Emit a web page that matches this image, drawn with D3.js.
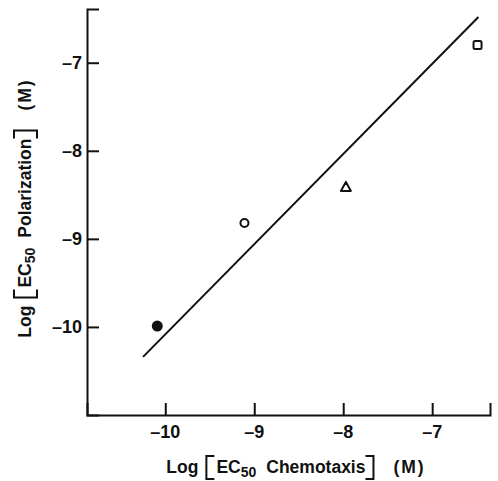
<!DOCTYPE html>
<html>
<head>
<meta charset="utf-8">
<script src="https://cdn.jsdelivr.net/npm/d3@7"></script>
<style>
  body { margin: 0; background: #fff; }
  text { font-family: "Liberation Sans", sans-serif; font-weight: bold; fill: #111; }
</style>
</head>
<body>
<script>
// data (log molar EC50 values)
var chemotaxis   = [-10.09, -9.11, -7.97, -6.49];
var polarization = [-9.99, -8.82, -8.41, -6.80];
var symbols      = ["filledCircle", "openCircle", "triangle", "square"];
var fitX = [-10.25, -6.48];
var fitY = [-10.34, -6.48];
var xTicks = [-10, -9, -8, -7];
var yTicks = [-10, -9, -8, -7];

var W = 498, H = 481;
var margin = {left: 87, right: 8, top: 9, bottom: 66};

var svg = d3.select("body").append("svg")
    .attr("width", W)
    .attr("height", H);

var x = d3.scaleLinear()
    .domain([-10.88, -6.35])
    .range([margin.left, W - margin.right]);

var y = d3.scaleLinear()
    .domain([-11.0, -6.39])
    .range([H - margin.bottom, margin.top]);

//axes, ticks pointing inward
var xAxis = d3.axisTop(x).tickValues(xTicks).tickSize(12).tickFormat("");
var yAxis = d3.axisRight(y).tickValues(yTicks).tickSize(12).tickFormat("");

var gx = svg.append("g")
    .attr("transform", "translate(0," + y.range()[0] + ")")
    .call(xAxis);
var gy = svg.append("g")
    .attr("transform", "translate(" + x.range()[0] + ",0)")
    .call(yAxis);

[gx, gy].forEach(function(g) {
  g.select(".domain").attr("stroke", "#111").attr("stroke-width", 2);
  g.selectAll(".tick line").attr("stroke", "#111").attr("stroke-width", 2);
});

//tick labels (en dash as the minus, like the original)
function fmt(d) { return "\u2013" + Math.abs(d); }

svg.selectAll(".xlab")
    .data(xTicks)
    .enter().append("text")
    .attr("x", function(d) { return x(d); })
    .attr("y", 432)
    .attr("dy", "0.36em")
    .attr("text-anchor", "middle")
    .attr("font-size", 18)
    .text(fmt);

svg.selectAll(".ylab")
    .data(yTicks)
    .enter().append("text")
    .attr("x", x.range()[0] - 5)
    .attr("y", function(d) { return y(d); })
    .attr("dy", "0.36em")
    .attr("text-anchor", "end")
    .attr("font-size", 18)
    .text(fmt);

//axis titles, built piece by piece so the brackets can be drawn as lines
function title(g, word) {
  var cx = 0;
  function piece(txt, size, dy, spacing) {
    var t = g.append("text")
        .attr("x", cx)
        .attr("y", dy || 0)
        .attr("font-size", size)
        .attr("letter-spacing", spacing || 0)
        .text(txt);
    cx += t.node().getComputedTextLength();
  }
  function bracket(left) {
    var top = -17, bot = 6, arm = 8;
    var d = left
      ? "M" + (cx + arm) + "," + top + "H" + cx + "V" + bot + "H" + (cx + arm)
      : "M" + (cx - arm) + "," + top + "H" + cx + "V" + bot + "H" + (cx - arm);
    g.append("path").attr("d", d).attr("fill", "none")
        .attr("stroke", "#111").attr("stroke-width", 2);
  }
  piece("Log", 17.5);
  cx += 8;
  bracket(true);
  cx += 10;
  piece("EC", 17.5);
  piece("50", 14, 4);
  cx += 10;
  piece(word, 17.5);
  cx += 8;
  bracket(false);
  cx += 20;
  piece("(M)", 17.5, 0, 2);
  g.selectAll("text,path").attr("transform", "translate(" + (-cx / 2) + ",0)");
}

var xt = svg.append("g")
    .attr("transform", "translate(296,473)");
title(xt, "Chemotaxis");

var yt = svg.append("g")
    .attr("transform", "translate(31,208) rotate(-90)");
title(yt, "Polarization");

//regression line
svg.append("line")
    .attr("x1", x(fitX[0])).attr("y1", y(fitY[0]))
    .attr("x2", x(fitX[1])).attr("y2", y(fitY[1]))
    .attr("stroke", "#111")
    .attr("stroke-width", 2);

//points
var pts = svg.selectAll(".pt")
    .data(chemotaxis.map(function(c, i) { return {x: c, y: polarization[i], s: symbols[i]}; }))
    .enter().append("g")
    .attr("transform", function(d) { return "translate(" + x(d.x) + "," + y(d.y) + ")"; });

pts.each(function(d) {
  var g = d3.select(this);
  if (d.s == "filledCircle") {
    g.append("circle").attr("r", 5.5).attr("fill", "#111");
  } else if (d.s == "openCircle") {
    g.append("circle").attr("r", 4).attr("fill", "none").attr("stroke", "#111").attr("stroke-width", 2);
  } else if (d.s == "triangle") {
    g.append("path").attr("d", "M0,-5L5,4L-5,4Z").attr("fill", "none").attr("stroke", "#111").attr("stroke-width", 2).attr("stroke-linejoin", "round");
  } else {
    g.append("rect").attr("x", -4).attr("y", -4).attr("width", 8).attr("height", 8).attr("rx", 1.5)
      .attr("fill", "none").attr("stroke", "#111").attr("stroke-width", 2);
  }
});
</script>
</body>
</html>
